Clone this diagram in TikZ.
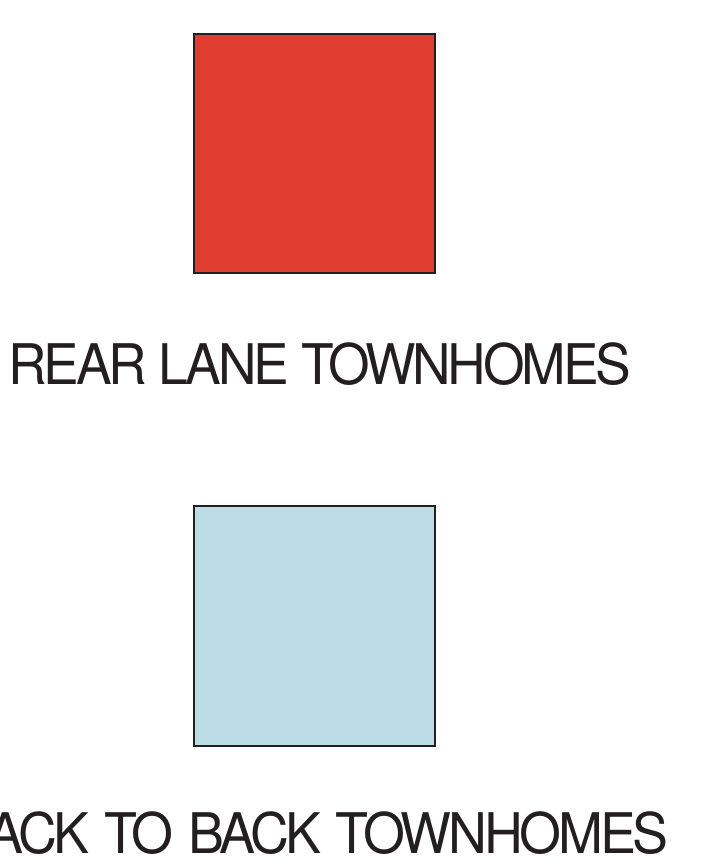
\documentclass[tikz,border=0pt]{standalone}
\usepackage{fontspec}
\setmainfont{TeX Gyre Heros}
\newfontfamily\labfont[LetterSpace=-6]{TeX Gyre Heros}
\definecolor{rearred}{HTML}{E03D31}
\definecolor{backblue}{HTML}{BCDDE6}
\definecolor{edge}{HTML}{231F20}
\newcommand{\labtext}[2][0.954]{\scalebox{#1}[1]{#2}}
\begin{document}
\begin{tikzpicture}[x=1pt,y=-1pt,
  swatch/.style={draw=edge, line width=2pt},
  lab/.style={inner sep=0pt, font=\labfont\fontsize{56}{60}\selectfont, text=edge}]
\useasboundingbox (0,0) rectangle (717,867);
\clip (0,0) rectangle (717,867);
\fill[white] (0,0) rectangle (717,867);
\path[swatch, fill=rearred] (194,34) rectangle (435,273);
\path[swatch, fill=backblue] (194,506) rectangle (435,746);
\node[lab, anchor=base west] (t1) at (8,384) {\labtext{REAR LANE TOWNHOMES}};
\node[lab, anchor=base east] (t2) at (669,853) {\labtext[0.962]{\spaceskip=15pt BACK TO BACK TOWNHOMES}};
\end{tikzpicture}
\end{document}
